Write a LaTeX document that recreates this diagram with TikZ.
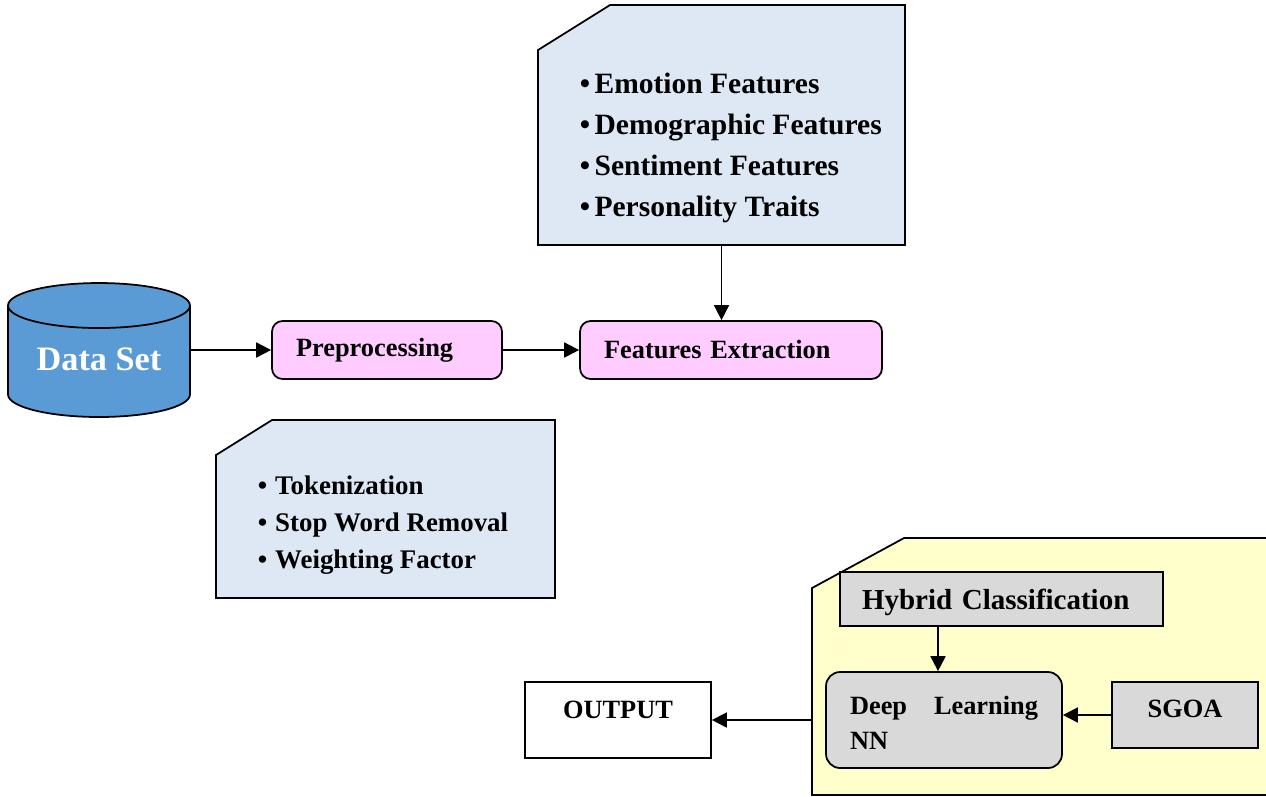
\documentclass[tikz,border=0pt]{standalone}
\usepackage{fontspec}
\setmainfont{Liberation Serif}
\usetikzlibrary{shapes.geometric,arrows.meta}
\definecolor{dsblue}{HTML}{5B9BD5}
\definecolor{prepink}{HTML}{FFCCFF}
\definecolor{noteblue}{HTML}{DEE8F5}
\definecolor{zoneyellow}{HTML}{FFFFCC}
\definecolor{boxgray}{HTML}{D9D9D9}
\begin{document}
\begin{tikzpicture}[>={Triangle[length=8.5pt,width=8.5pt]}, x=0.02cm, y=-0.02cm, line width=1pt]
\tikzstyle{every node}=[font=\fontsize{15}{20}\selectfont\bfseries]
\tikzstyle{box}=[draw,rectangle,inner sep=0pt,align=left]
\tikzstyle{area}=[rectangle,inner sep=0pt,outer sep=0pt]
\useasboundingbox (0,0) rectangle (1266,796);
% input and preprocessing
\node[cylinder,shape border rotate=90,aspect=0.33,draw,fill=dsblue,text=white,minimum width=3.64cm,minimum height=2.68cm,anchor=shape center,font=\fontsize{19.5}{23}\selectfont\bfseries](ds) at (99,350) {\raisebox{-2.8pt}[0pt][0pt]{Data Set}};
\node[box,rounded corners=6pt,fill=prepink,minimum width=4.6cm,minimum height=1.16cm,text width=3.64cm](pre) at (387,350) {Preprocessing};
\node[box,rounded corners=6pt,fill=prepink,minimum width=6.04cm,minimum height=1.16cm,text width=5.08cm](fe) at (731,350) {Features Extraction};
% feature list
\node[area,minimum width=7.34cm,minimum height=4.8cm](n1) at (721.5,125) {};
\filldraw[fill=noteblue] ([yshift=-0.9cm]n1.north west) -- ([xshift=1.44cm]n1.north west) -- (n1.north east) -- (n1.south east) -- (n1.south west) -- cycle;
\node[align=left,anchor=west,inner sep=0pt,font=\fontsize{16.8}{23.3}\selectfont\bfseries](l1) at (579,148) {•\kern2.5pt Emotion Features\\•\kern2.5pt Demographic Features\\•\kern2.5pt Sentiment Features\\•\kern2.5pt Personality Traits};
% preprocessing list
\node[area,minimum width=6.78cm,minimum height=3.56cm](n2) at (385.5,509) {};
\filldraw[fill=noteblue] ([yshift=-0.7cm]n2.north west) -- ([xshift=1.12cm]n2.north west) -- (n2.north east) -- (n2.south east) -- (n2.south west) -- cycle;
\node[align=left,anchor=west,inner sep=0pt,font=\fontsize{15.3}{21}\selectfont\bfseries](l2) at (257,525) {•\kern4.5pt Tokenization\\•\kern4.5pt Stop Word Removal\\•\kern4.5pt Weighting Factor};
% classification
\node[area,minimum width=9.16cm,minimum height=5.14cm](hz) at (1041,666.5) {};
\filldraw[fill=zoneyellow] ([yshift=-1.0cm]hz.north west) -- ([xshift=1.84cm]hz.north west) -- (hz.north east) -- (hz.south east) -- (hz.south west) -- cycle;
\node[box,fill=boxgray,minimum width=6.46cm,minimum height=1.08cm,text width=5.58cm,text height=15pt,font=\fontsize{16.5}{20}\selectfont\bfseries](hc) at (1001.5,599) {Hybrid Classification};
\node[box,rounded corners=8pt,fill=boxgray,minimum width=4.72cm,minimum height=1.92cm,text width=3.76cm,text height=11pt,text depth=17pt](dl) at (944,720) {Deep\hfill Learning\\NN};
\node[box,fill=boxgray,minimum width=2.92cm,minimum height=1.32cm,align=center,text depth=7pt](sg) at (1185,715) {SGOA};
\node[box,fill=white,minimum width=3.72cm,minimum height=1.52cm,align=center,text height=11pt,text depth=13pt](out) at (618,720) {OUTPUT};
\draw[->] (ds.east |- pre.west) -- (pre.west);
\draw[->] (pre.east) -- (fe.west);
\draw[->] (n1.south) -- (n1.south |- fe.north);
\draw[->] ([xshift=-0.12cm]dl.north |- hc.south) -- ([xshift=-0.12cm]dl.north);
\draw[->] (sg.west) -- (sg.west -| dl.east);
\draw[->] (hz.west |- out.east) -- (out.east);
\end{tikzpicture}
\end{document}
